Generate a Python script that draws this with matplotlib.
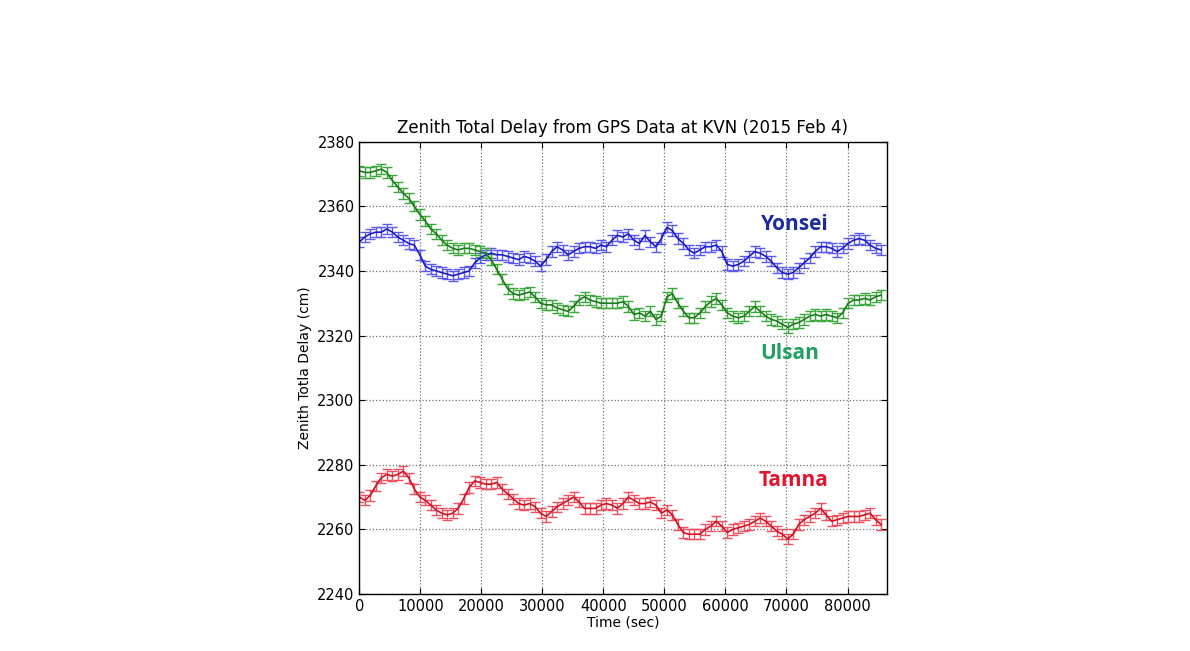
import numpy as np
import matplotlib
matplotlib.use('Agg')
from matplotlib import pyplot as plt

# GPS zenith total delay, sampled every 15 min (900 s)
time_sec = np.arange(96) * 900

yonsei = [2349.0, 2350.5, 2351.5, 2352.0, 2352.0, 2353.0, 2352.0, 2350.5, 2349.5, 2348.5,
          2348.0, 2345.0, 2341.5, 2340.5, 2340.0, 2339.5, 2339.0, 2338.5, 2339.0, 2339.5,
          2340.0, 2342.5, 2344.0, 2345.0, 2345.5, 2345.0, 2345.0, 2344.5, 2344.0, 2343.5,
          2344.5, 2344.0, 2343.0, 2341.5, 2343.5, 2346.0, 2347.5, 2346.5, 2345.0, 2346.0,
          2347.0, 2347.5, 2347.5, 2347.0, 2348.0, 2347.5, 2349.5, 2351.0, 2350.5, 2351.5,
          2349.5, 2348.5, 2351.0, 2349.0, 2347.5, 2350.0, 2353.5, 2352.5, 2350.0, 2348.5,
          2346.5, 2345.5, 2346.5, 2347.5, 2347.5, 2348.0, 2346.0, 2342.0, 2341.5, 2342.0,
          2343.0, 2344.5, 2346.0, 2345.5, 2344.5, 2343.0, 2341.0, 2339.5, 2339.0, 2339.5,
          2341.0, 2342.5, 2344.0, 2346.0, 2347.5, 2347.5, 2347.0, 2346.0, 2347.0, 2348.5,
          2349.5, 2350.0, 2349.5, 2348.0, 2347.0, 2346.5]

ulsan = [2371.0, 2370.5, 2370.5, 2371.0, 2371.5, 2370.5, 2368.0, 2366.0, 2364.0, 2362.5,
         2360.0, 2357.5, 2355.5, 2353.0, 2351.5, 2349.5, 2348.0, 2347.0, 2346.5, 2347.0,
         2347.0, 2346.5, 2346.0, 2345.5, 2343.5, 2340.5, 2337.5, 2334.5, 2333.0, 2332.5,
         2333.0, 2333.5, 2332.0, 2330.0, 2329.5, 2329.5, 2328.5, 2328.0, 2327.5, 2329.0,
         2331.0, 2332.0, 2331.0, 2330.5, 2330.0, 2330.0, 2330.0, 2330.0, 2330.5, 2329.0,
         2326.5, 2327.0, 2326.0, 2327.5, 2325.0, 2326.0, 2332.0, 2333.0, 2330.0, 2327.5,
         2325.5, 2325.5, 2327.0, 2329.0, 2330.5, 2331.5, 2329.5, 2327.0, 2326.0, 2325.5,
         2326.0, 2327.5, 2329.0, 2327.5, 2326.0, 2325.0, 2324.5, 2323.5, 2322.5, 2323.5,
         2324.0, 2325.0, 2326.0, 2326.5, 2326.0, 2326.5, 2326.0, 2325.5, 2327.0, 2330.0,
         2331.0, 2331.0, 2331.5, 2331.0, 2332.0, 2332.5]

tamna = [2270.0, 2269.0, 2270.5, 2273.5, 2276.0, 2277.0, 2276.5, 2277.0, 2278.0, 2276.0,
         2272.5, 2270.0, 2269.0, 2267.5, 2266.0, 2265.0, 2264.5, 2265.0, 2266.5, 2269.5,
         2273.0, 2275.0, 2274.5, 2274.0, 2274.0, 2274.5, 2272.5, 2271.0, 2269.5, 2268.0,
         2267.5, 2268.0, 2267.0, 2265.0, 2264.0, 2265.5, 2267.0, 2268.0, 2269.0, 2270.0,
         2268.5, 2266.5, 2266.5, 2266.5, 2267.5, 2268.0, 2267.5, 2266.5, 2268.0, 2270.0,
         2269.0, 2268.0, 2268.0, 2268.5, 2267.5, 2265.0, 2266.0, 2264.5, 2261.5, 2259.0,
         2258.5, 2258.5, 2258.5, 2260.0, 2261.0, 2262.5, 2261.0, 2259.0, 2260.0, 2260.5,
         2261.0, 2261.5, 2262.5, 2263.5, 2262.5, 2261.0, 2259.5, 2258.5, 2257.0, 2258.5,
         2261.5, 2263.0, 2264.0, 2265.0, 2266.5, 2264.5, 2262.5, 2263.0, 2263.5, 2264.0,
         2264.0, 2264.0, 2264.5, 2265.0, 2263.0, 2261.5]

# 1-sigma error (cm), roughly constant for all stations
ztd_err = 1.6

stations = ['Yonsei', 'Ulsan', 'Tamna']
series = [yonsei, ulsan, tamna]
line_colors = ['#1a1acc', '#1a7a1a', '#d4101e']
err_colors = ['#5a5aee', '#3ca83c', '#ee5060']
label_colors = ['#1c2c9c', '#20a060', '#e0142c']
label_pos = [(71300, 2354.5), (70500, 2314.3), (71100, 2275.2)]

fig = plt.figure(figsize=(11.9, 6.51), dpi=100)
ax = fig.add_axes([0.302, 0.0876, 0.443, 0.6947])

for name, y, lc, ec in zip(stations, series, line_colors, err_colors):
    ax.errorbar(time_sec, y, yerr=ztd_err, color=lc, ecolor=ec,
                elinewidth=1.0, capsize=3.5, capthick=1.0, linewidth=1.2)

for name, (tx, ty), c in zip(stations, label_pos, label_colors):
    ax.text(tx, ty, name, color=c, fontsize=15, fontweight='bold',
            family='Open Sans', ha='center', va='center')

ax.set_xlim(0, 86400)
ax.set_ylim(2240, 2380)
ax.set_xticks(np.arange(0, 86400, 10000))
ax.set_yticks(np.arange(2240, 2381, 20))
ax.grid(True, linestyle=':', color='0.45', linewidth=0.9)
ax.tick_params(direction='in', top=True, right=True, labelsize=10.5, length=4)
for s in ax.spines.values():
    s.set_linewidth(1.0)

ax.set_title('Zenith Total Delay from GPS Data at KVN (2015 Feb 4)', fontsize=12)
ax.set_xlabel('Time (sec)', fontsize=10, labelpad=1)
ax.set_ylabel('Zenith Totla Delay (cm)', fontsize=10)

fig.savefig('out.png', dpi=100)
